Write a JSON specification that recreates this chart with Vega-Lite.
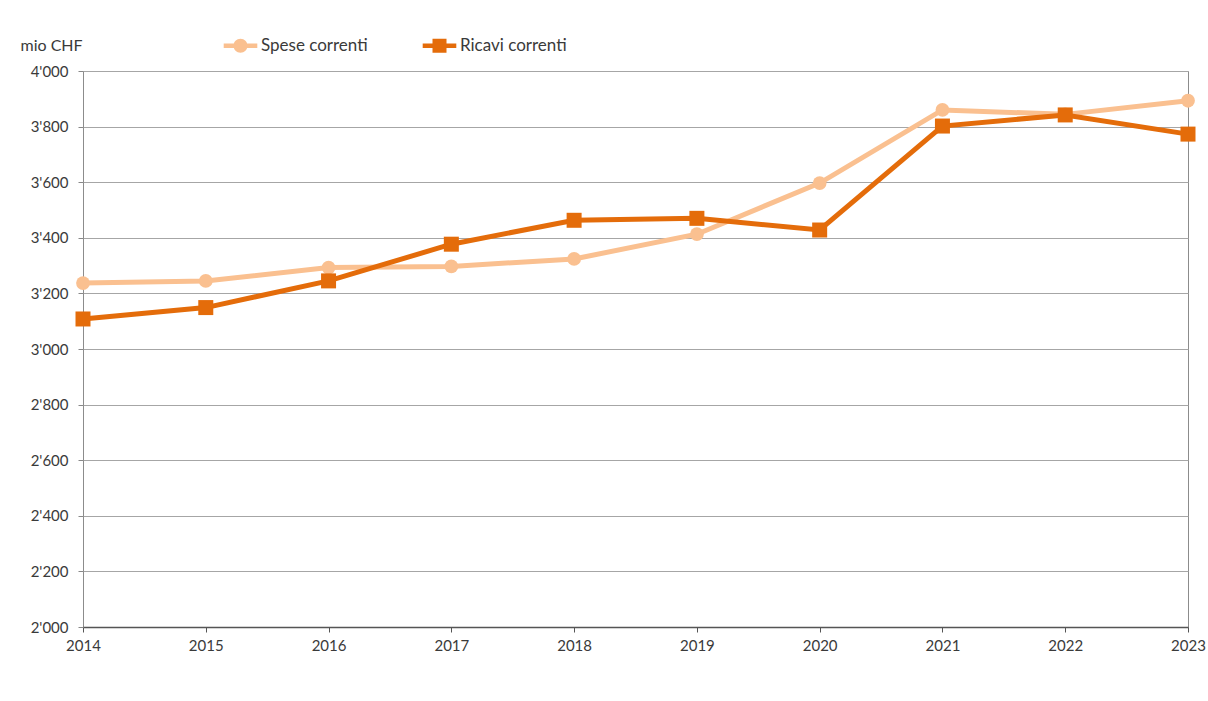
{
  "$schema": "https://vega.github.io/schema/vega-lite/v6.json",
  "width": 1105,
  "height": 556,
  "autosize": {"type": "none"},
  "padding": {"left": 83, "top": 71, "right": 20, "bottom": 74},
  "background": "white",
  "config": {"font": "Lato", "view": {"stroke": "#8c8c8c", "strokeWidth": 1}},
  "data": {"values": [
    {"year": 2014, "series": "Spese correnti", "value": 3237},
    {"year": 2015, "series": "Spese correnti", "value": 3245},
    {"year": 2016, "series": "Spese correnti", "value": 3293},
    {"year": 2017, "series": "Spese correnti", "value": 3297},
    {"year": 2018, "series": "Spese correnti", "value": 3324},
    {"year": 2019, "series": "Spese correnti", "value": 3413},
    {"year": 2020, "series": "Spese correnti", "value": 3597},
    {"year": 2021, "series": "Spese correnti", "value": 3860},
    {"year": 2022, "series": "Spese correnti", "value": 3844},
    {"year": 2023, "series": "Spese correnti", "value": 3893},
    {"year": 2014, "series": "Ricavi correnti", "value": 3108},
    {"year": 2015, "series": "Ricavi correnti", "value": 3149},
    {"year": 2016, "series": "Ricavi correnti", "value": 3245},
    {"year": 2017, "series": "Ricavi correnti", "value": 3377},
    {"year": 2018, "series": "Ricavi correnti", "value": 3463},
    {"year": 2019, "series": "Ricavi correnti", "value": 3470},
    {"year": 2020, "series": "Ricavi correnti", "value": 3428},
    {"year": 2021, "series": "Ricavi correnti", "value": 3802},
    {"year": 2022, "series": "Ricavi correnti", "value": 3842},
    {"year": 2023, "series": "Ricavi correnti", "value": 3773}
  ]},
  "encoding": {
    "x": {
      "field": "year", "type": "quantitative",
      "scale": {"domain": [2014, 2023], "nice": false, "zero": false},
      "axis": {
        "values": [2014, 2015, 2016, 2017, 2018, 2019, 2020, 2021, 2022, 2023],
        "format": "d", "title": null, "grid": false,
        "tickSize": 5, "tickColor": "#555", "domainColor": "#555", "domainWidth": 1.5,
        "labelFontSize": 15, "labelColor": "#3a3a3a", "labelPadding": 6,
        "labelFlush": false, "labelOverlap": false, "labelBound": false
      }
    },
    "y": {
      "field": "value", "type": "quantitative",
      "scale": {"domain": [2000, 4000], "nice": false, "zero": false},
      "axis": {
        "values": [2000, 2200, 2400, 2600, 2800, 3000, 3200, 3400, 3600, 3800, 4000],
        "labelExpr": "replace(format(datum.value, ',d'), ',', \"'\")",
        "title": "mio CHF", "titleAngle": 0, "titleX": -63, "titleY": -26,
        "titleAlign": "left", "titleBaseline": "middle", "titleFontWeight": "normal",
        "titleFontSize": 16, "titleColor": "#3a3a3a",
        "domain": false, "grid": true, "gridColor": "#a6a6a6", "gridWidth": 1,
        "tickSize": 5, "tickColor": "#888",
        "labelFontSize": 15, "labelColor": "#3a3a3a", "labelPadding": 10
      }
    },
    "color": {
      "field": "series", "type": "nominal",
      "scale": {"domain": ["Spese correnti", "Ricavi correnti"], "range": ["#FAC090", "#E46C0A"]},
      "legend": {
        "title": null, "orient": "none", "direction": "horizontal",
        "legendX": 149, "legendY": -34,
        "symbolSize": 196, "labelFontSize": 17, "labelColor": "#3a3a3a",
        "labelOffset": 12, "columnPadding": 54,
        "encode": {
          "symbols": {
            "update": {
              "shape": {"signal": "datum.value === 'Spese correnti' ? 'M-2.4,-0.32H2.4V0.32H-2.4Z M-1,0A1,1 0 1,1 1,0A1,1 0 1,1 -1,0Z' : 'M-2.4,-0.32H2.4V0.32H-2.4Z M-1,-1H1V1H-1Z'"},
              "fill": {"signal": "datum.value === 'Spese correnti' ? '#FAC090' : '#E46C0A'"},
              "fillOpacity": {"value": 1},
              "opacity": {"value": 1},
              "strokeWidth": {"value": 0}
            }
          }
        }
      }
    }
  },
  "layer": [
    {
      "transform": [{"filter": "datum.series === 'Spese correnti'"}],
      "mark": {"type": "line", "strokeWidth": 5}
    },
    {
      "transform": [{"filter": "datum.series === 'Spese correnti'"}],
      "mark": {"type": "point", "shape": "circle", "filled": true, "opacity": 1, "size": 190}
    },
    {
      "transform": [{"filter": "datum.series === 'Ricavi correnti'"}],
      "mark": {"type": "line", "strokeWidth": 5}
    },
    {
      "transform": [{"filter": "datum.series === 'Ricavi correnti'"}],
      "mark": {"type": "point", "shape": "square", "filled": true, "opacity": 1, "size": 225}
    }
  ]
}
